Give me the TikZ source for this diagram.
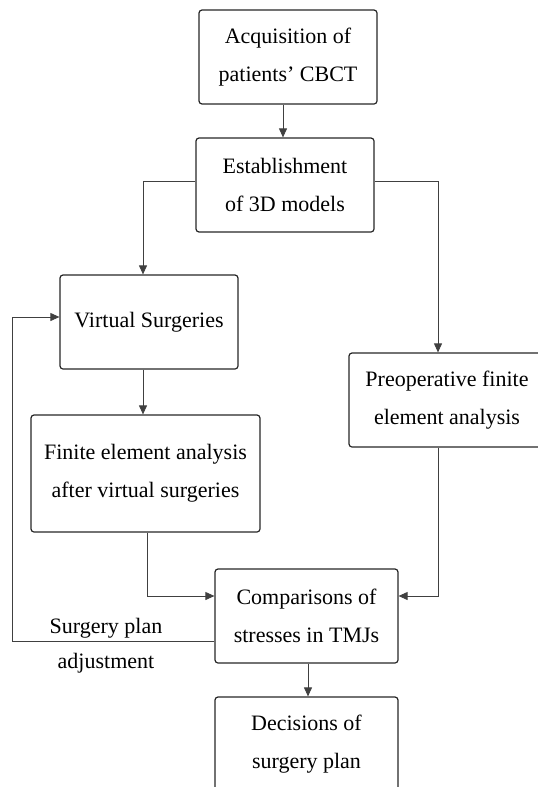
\documentclass[tikz,border=0pt]{standalone}
\usepackage{fontspec}
\setmainfont{Liberation Serif}
\usetikzlibrary{arrows.meta}

\begin{document}
\begin{tikzpicture}[x=1pt,y=-1pt,
	box/.style={shape=rectangle,draw=black!85,line width=1.2pt,rounded corners=3pt,
		minimum width=178pt,minimum height=94pt,align=center,inner sep=0pt,
		font=\fontsize{22}{38}\selectfont},
	flow/.style={draw=black!75,line width=0.9pt,-{Triangle[length=9pt,width=8pt]}},
	tag/.style={align=center,font=\fontsize{22}{35}\selectfont}]

	\useasboundingbox (0,0) rectangle (538,787);

	\node[box] (acq) at (288, 57)    {Acquisition of\\patients’ CBCT};
	\node[box] (est) at (285, 185)   {Establishment\\of 3D models};
	\node[box] (virt) at (149, 322)  {Virtual Surgeries};
	\node[box,minimum width=229pt,minimum height=117pt] (fea) at (145.5, 473.5) {Finite element analysis\\after virtual surgeries};
	\node[box,minimum width=196pt] (pre) at (447, 400)  {Preoperative finite\\element analysis};
	\node[box,minimum width=183pt] (comp) at (306.5, 616) {Comparisons of\\stresses in TMJs};
	\node[box,minimum width=183pt] (dec) at (306.5, 744)  {Decisions of\\surgery plan};

	\node[tag] (adj) at (106, 646) {Surgery plan\\adjustment};
	\coordinate (loop) at (12, 641);

	\draw[flow] ([xshift=-5]acq.south) -- ([xshift=-5]acq.south |- est.north);
	\draw[flow] ([yshift=4]est.west) -| ([xshift=-6]virt.north);
	\draw[flow] ([yshift=4]est.east) -| ([xshift=-9]pre.north);
	\draw[flow] ([xshift=-6]virt.south) -- ([xshift=-6]virt.south |- fea.north);
	\draw[flow] ([xshift=1.5]fea.south) |- ([yshift=20]comp.west);
	\draw[flow] ([xshift=-9]pre.south) |- ([yshift=20]comp.east);
	\draw[flow] ([yshift=-25]comp.west) -- (loop) |- ([yshift=5]virt.west);
	\draw[flow] ([xshift=1.5]comp.south) -- ([xshift=1.5]comp.south |- dec.north);

\end{tikzpicture}
\end{document}
